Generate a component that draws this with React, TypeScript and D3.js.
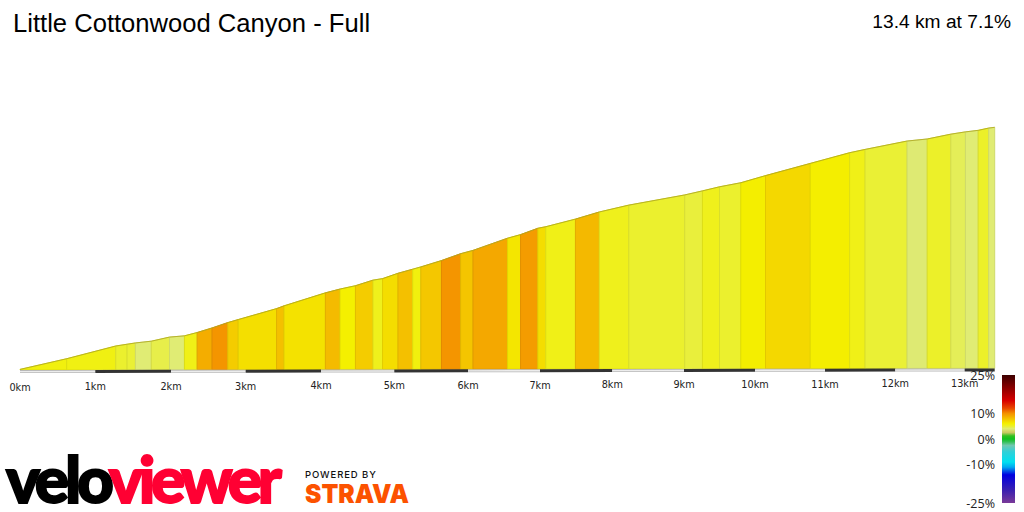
import React from "react";
import * as d3 from "d3";

const title = "Little Cottonwood Canyon - Full";
const summary = "13.4 km at 7.1%";

// distance (km) and elevation gain (m) at each gradient change
const distances = [
  0, 0.62, 1.27, 1.42, 1.53, 1.74, 1.98, 2.18, 2.35, 2.55, 2.76, 2.9, 3.41, 3.51, 4.06, 4.26,
  4.47, 4.71, 4.84, 5.05, 5.25, 5.36, 5.64, 5.9, 6.07, 6.55, 6.73, 6.97, 7.08, 7.49, 7.82, 8.23,
  9.01, 9.26, 9.5, 9.8, 10.15, 10.79, 11.35, 11.57, 12.17, 12.46, 12.8, 13.01, 13.18, 13.32, 13.4,
];
const elevations = [
  0, 42, 92, 99, 104, 111, 127, 132, 145, 163, 184, 196, 239, 250, 301, 316,
  329, 351, 357, 378, 394, 403, 428, 455, 468, 516, 530, 555, 561, 591, 619, 646,
  686, 702, 718, 734, 762, 810, 852, 865, 898, 906, 925, 934, 940, 949, 952,
];
// gradient (%) of each segment
const grades = [
  5.7, 5.6, 5, 4.9, 4, 4.6, 4, 5.5, 8.8, 9.8, 7.5, 6.7, 8, 6.6, 8.2, 6,
  7.5, 5.4, 6.8, 8, 5.7, 7.7, 9.8, 7.8, 9, 6.4, 9.5, 6.8, 5.5, 8.3, 5.4,
  5, 4.8, 5.4, 5, 6.1, 7, 6.1, 5.5, 4.9, 3.9, 5.1, 4.4, 4, 5.1, 4,
];

const kmTicks = d3.range(0, 14);
const legendTicks = [25, 10, 0, -10, -25];
const gradeStops = [25, 20, 15, 12, 10, 8, 7, 6, 5, 4, 2.5, 1.2, 0, -1, -2.5, -5, -9, -11, -14, -20, -25];
const colourStops = [
  "#3c0000", "#8a0000", "#d80000", "#e84800", "#f49000", "#f4c000", "#f4d800", "#f4f000", "#ebf02e",
  "#e0ec74", "#c8c860", "#30c020", "#10c020", "#30c050", "#70c8b0", "#30d0d8", "#00e0f0", "#00a8f0",
  "#0000e0", "#3a20b0", "#7a3a98",
];

const kmScale = d3
  .scaleLinear()
  .domain([...kmTicks, 13.4])
  .range([20, 95.3, 171, 245.7, 321, 394.3, 468, 540, 612.3, 684, 755, 825, 895.3, 964.7, 994.7]);
const elevationScale = d3.scaleLinear().domain([0, 952]).range([369.4, 127.3]);
const baseScale = d3.scaleLinear().domain([0, 13.4]).range([370, 368.3]);
const labelScale = d3.scaleLinear().domain([0, 13]).range([390.5, 387]);
const colourScale = d3.scaleLinear<string>().domain(gradeStops).range(colourStops);
const legendScale = d3.scaleLinear().domain([25, 0, -25]).range([375, 439, 503]);

const darker = (c: string) => d3.color(c)!.darker(0.22).formatHex();

export default function App() {
  const outline = d3
    .line<number>()
    .x((d) => kmScale(d))
    .y((_, i) => elevationScale(elevations[i]));

  const segments = grades.map((g, i) => {
    const a = distances[i];
    const b = distances[i + 1];
    const path = [
      [kmScale(a), baseScale(a)],
      [kmScale(a), elevationScale(elevations[i])],
      [kmScale(b), elevationScale(elevations[i + 1])],
      [kmScale(b), baseScale(b)],
    ];
    return { d: d3.line()(path as [number, number][])! + "Z", colour: colourScale(g) };
  });

  const strips = [...kmTicks].map((k) => {
    const end = Math.min(k + 1, 13.4);
    return { k, x1: kmScale(k), x2: kmScale(end), y1: baseScale(k) + 1.6, y2: baseScale(end) + 1.6 };
  });

  return (
    <svg
      width={1024}
      height={512}
      style={{ position: "absolute", left: 0, top: 0, fontFamily: "'Liberation Sans', Arial, sans-serif" }}
    >
      <defs>
        <linearGradient id="legend-gradient" x1="0" x2="0" y1="0" y2="1">
          {gradeStops.map((g, i) => (
            <stop key={g} offset={(25 - g) / 50} stopColor={colourStops[i]} />
          ))}
        </linearGradient>
      </defs>

      <text x={13} y={32} fontSize={25.6} fill="#000">{title}</text>
      <text x={1011} y={28} fontSize={19.2} textAnchor="end" fill="#000">{summary}</text>

      {segments.map((s, i) => (
        <path key={i} d={s.d} fill={s.colour} stroke={darker(s.colour)} strokeWidth={1} />
      ))}
      <path d={outline(distances)!} fill="none" stroke="#b0a820" strokeWidth={0.8} />

      {strips.map((s) => (
        <g key={s.k}>
          <line
            x1={s.x1}
            x2={s.x2}
            y1={s.y1}
            y2={s.y2}
            stroke={s.k % 2 ? "#333333" : "#b8b8b8"}
            strokeWidth={3}
          />
          {s.k % 2 === 0 && (
            <line x1={s.x1} x2={s.x2} y1={s.y1} y2={s.y2} stroke="#ececec" strokeWidth={1.4} />
          )}
        </g>
      ))}

      {kmTicks.map((k) => (
        <text
          key={k}
          x={kmScale(k)}
          y={labelScale(k)}
          fontSize={9.7}
          textAnchor="middle"
          fill="#222"
          style={{ fontFamily: "'DejaVu Sans', sans-serif" }}
        >
          {k}km
        </text>
      ))}

      <rect x={1002} y={375} width={13} height={128} fill="url(#legend-gradient)" />
      {legendTicks.map((t) => (
        <text
          key={t}
          x={995}
          y={legendScale(t) + 4.5}
          fontSize={12.5}
          textAnchor="end"
          fill="#222"
          style={{ fontFamily: "'Open Sans', sans-serif" }}
        >
          {t}%
        </text>
      ))}

      <text
        x={6}
        y={503}
        fontSize={64}
        fontWeight={900}
        letterSpacing={-4.2}
        strokeWidth={1.8}
        style={{ fontFamily: "Lato, sans-serif" }}
      >
        <tspan fill="#000" stroke="#000">velo</tspan>
        <tspan fill="#ff0033" stroke="#ff0033">viewer</tspan>
      </text>
      <text
        x={305}
        y={478}
        fontSize={9.5}
        fontWeight={500}
        letterSpacing={0.9}
        fill="#111"
        style={{ fontFamily: "Inter, sans-serif" }}
      >
        POWERED BY
      </text>
      <text
        x={305}
        y={503}
        fontSize={26}
        fontWeight={900}
        textLength={104}
        lengthAdjust="spacingAndGlyphs"
        fill="#fc5200"
        style={{ fontFamily: "Inter, sans-serif" }}
      >
        STRAVA
      </text>
    </svg>
  );
}
